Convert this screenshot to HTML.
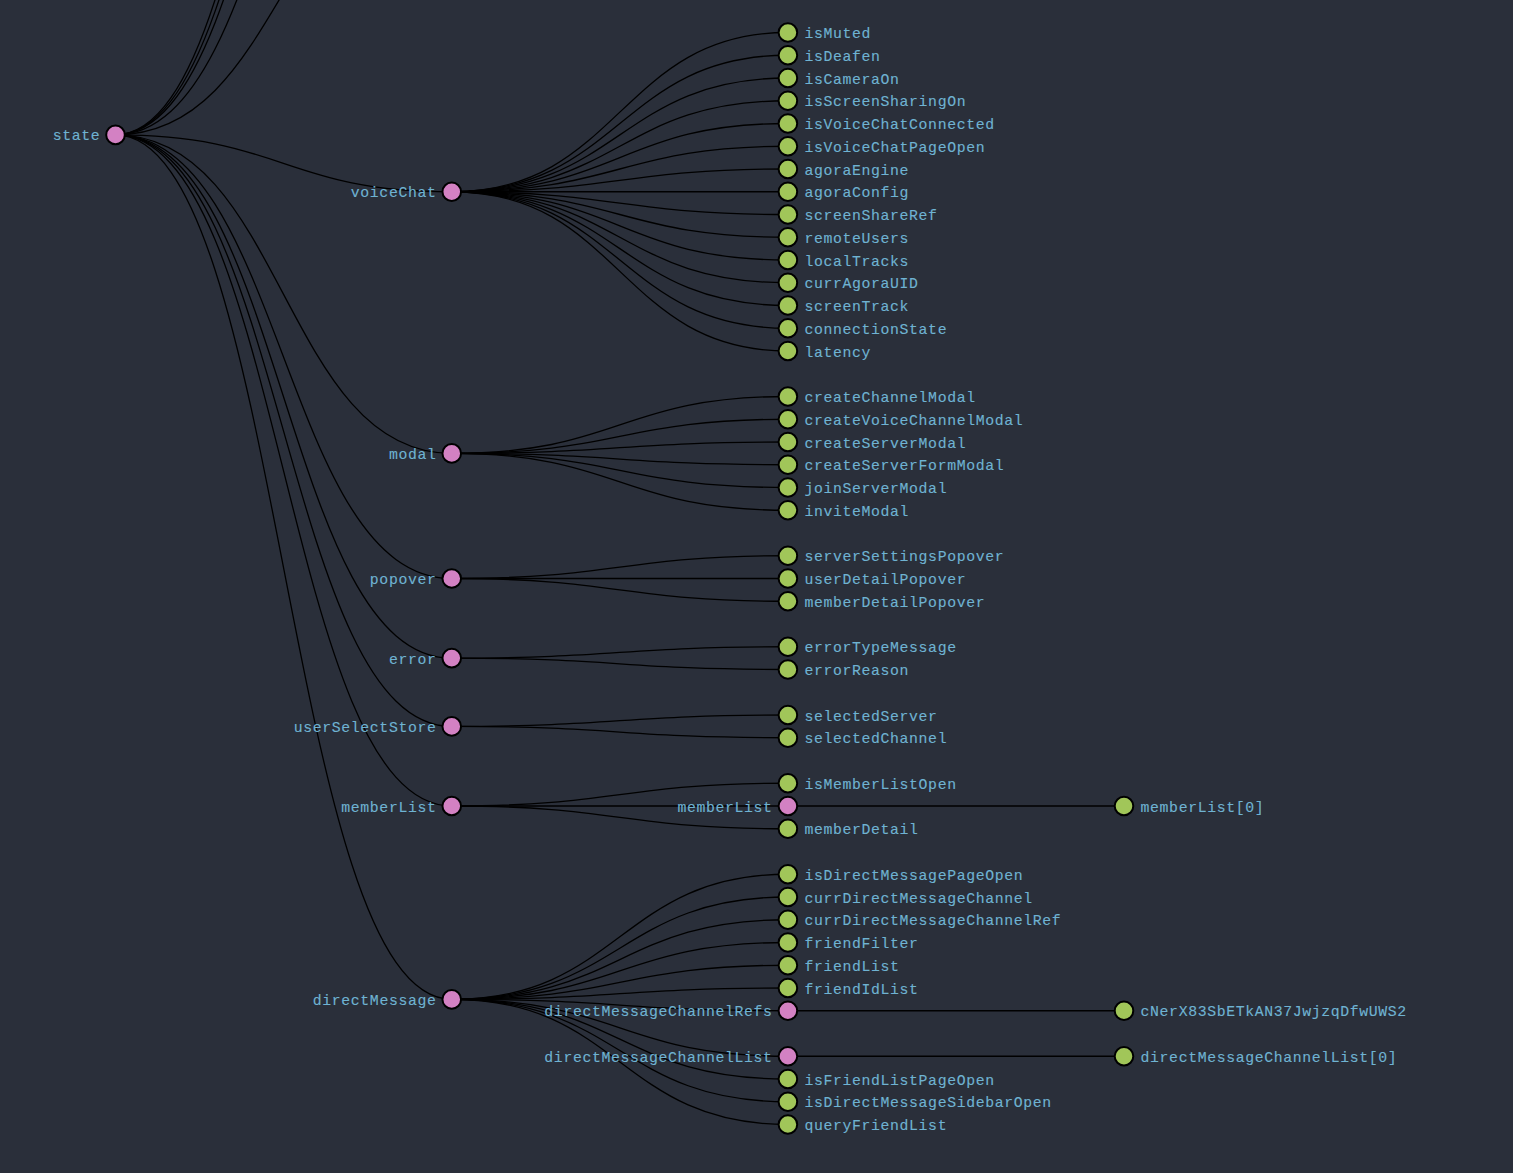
<!DOCTYPE html>
<html lang="en">
<head>
<meta charset="utf-8">
<title>Redux DevTools - Chart</title>
<style>
html,body{margin:0;padding:0;background:#2A2F3A;overflow:hidden;}
svg{display:block;}
path{fill:none;stroke:#000;stroke-width:1.3px;}
circle{stroke:#000;stroke-width:2.0px;}
circle.p{fill:#D381C3;}
circle.l{fill:#A1C659;}
text{font-family:"Liberation Mono", "DejaVu Sans Mono", monospace;font-size:14.8px;letter-spacing:0.63px;fill:#6FB3D2;stroke:#6FB3D2;stroke-width:0.12px;text-anchor:start;}
text.e{text-anchor:end;}
</style>
</head>
<body>
<svg width="1513" height="1173" viewBox="0 0 1513 1173">
<rect width="1513" height="1173" fill="#2A2F3A"/>
<g class="links">
<path d="M115.10,134.88C283.43,134.88 283.43,-729.62 451.75,-729.62"/>
<path d="M115.10,134.88C283.43,134.88 283.43,-655.69 451.75,-655.69"/>
<path d="M115.10,134.88C283.43,134.88 283.43,-582.89 451.75,-582.89"/>
<path d="M115.10,134.88C283.43,134.88 283.43,-414.54 451.75,-414.54"/>
<path d="M115.10,134.88C283.43,134.88 283.43,-149.50 451.75,-149.50"/>
<path d="M115.10,134.88C283.43,134.88 283.43,191.75 451.75,191.75"/>
<path d="M451.75,191.75C619.83,191.75 619.83,32.50 787.90,32.50"/>
<path d="M451.75,191.75C619.83,191.75 619.83,55.25 787.90,55.25"/>
<path d="M451.75,191.75C619.83,191.75 619.83,78.00 787.90,78.00"/>
<path d="M451.75,191.75C619.83,191.75 619.83,100.75 787.90,100.75"/>
<path d="M451.75,191.75C619.83,191.75 619.83,123.50 787.90,123.50"/>
<path d="M451.75,191.75C619.83,191.75 619.83,146.25 787.90,146.25"/>
<path d="M451.75,191.75C619.83,191.75 619.83,169.00 787.90,169.00"/>
<path d="M451.75,191.75C619.83,191.75 619.83,191.75 787.90,191.75"/>
<path d="M451.75,191.75C619.83,191.75 619.83,214.50 787.90,214.50"/>
<path d="M451.75,191.75C619.83,191.75 619.83,237.25 787.90,237.25"/>
<path d="M451.75,191.75C619.83,191.75 619.83,260.00 787.90,260.00"/>
<path d="M451.75,191.75C619.83,191.75 619.83,282.75 787.90,282.75"/>
<path d="M451.75,191.75C619.83,191.75 619.83,305.50 787.90,305.50"/>
<path d="M451.75,191.75C619.83,191.75 619.83,328.25 787.90,328.25"/>
<path d="M451.75,191.75C619.83,191.75 619.83,351.00 787.90,351.00"/>
<path d="M115.10,134.88C283.43,134.88 283.43,453.38 451.75,453.38"/>
<path d="M451.75,453.38C619.83,453.38 619.83,396.50 787.90,396.50"/>
<path d="M451.75,453.38C619.83,453.38 619.83,419.25 787.90,419.25"/>
<path d="M451.75,453.38C619.83,453.38 619.83,442.00 787.90,442.00"/>
<path d="M451.75,453.38C619.83,453.38 619.83,464.75 787.90,464.75"/>
<path d="M451.75,453.38C619.83,453.38 619.83,487.50 787.90,487.50"/>
<path d="M451.75,453.38C619.83,453.38 619.83,510.25 787.90,510.25"/>
<path d="M115.10,134.88C283.43,134.88 283.43,578.50 451.75,578.50"/>
<path d="M451.75,578.50C619.83,578.50 619.83,555.75 787.90,555.75"/>
<path d="M451.75,578.50C619.83,578.50 619.83,578.50 787.90,578.50"/>
<path d="M451.75,578.50C619.83,578.50 619.83,601.25 787.90,601.25"/>
<path d="M115.10,134.88C283.43,134.88 283.43,658.12 451.75,658.12"/>
<path d="M451.75,658.12C619.83,658.12 619.83,646.75 787.90,646.75"/>
<path d="M451.75,658.12C619.83,658.12 619.83,669.50 787.90,669.50"/>
<path d="M115.10,134.88C283.43,134.88 283.43,726.38 451.75,726.38"/>
<path d="M451.75,726.38C619.83,726.38 619.83,715.00 787.90,715.00"/>
<path d="M451.75,726.38C619.83,726.38 619.83,737.75 787.90,737.75"/>
<path d="M115.10,134.88C283.43,134.88 283.43,806.00 451.75,806.00"/>
<path d="M451.75,806.00C619.83,806.00 619.83,783.25 787.90,783.25"/>
<path d="M451.75,806.00C619.83,806.00 619.83,806.00 787.90,806.00"/>
<path d="M787.90,806.00C955.95,806.00 955.95,806.00 1124.00,806.00"/>
<path d="M451.75,806.00C619.83,806.00 619.83,828.75 787.90,828.75"/>
<path d="M115.10,134.88C283.43,134.88 283.43,999.38 451.75,999.38"/>
<path d="M451.75,999.38C619.83,999.38 619.83,874.25 787.90,874.25"/>
<path d="M451.75,999.38C619.83,999.38 619.83,897.00 787.90,897.00"/>
<path d="M451.75,999.38C619.83,999.38 619.83,919.75 787.90,919.75"/>
<path d="M451.75,999.38C619.83,999.38 619.83,942.50 787.90,942.50"/>
<path d="M451.75,999.38C619.83,999.38 619.83,965.25 787.90,965.25"/>
<path d="M451.75,999.38C619.83,999.38 619.83,988.00 787.90,988.00"/>
<path d="M451.75,999.38C619.83,999.38 619.83,1010.75 787.90,1010.75"/>
<path d="M787.90,1010.75C955.95,1010.75 955.95,1010.75 1124.00,1010.75"/>
<path d="M451.75,999.38C619.83,999.38 619.83,1056.25 787.90,1056.25"/>
<path d="M787.90,1056.25C955.95,1056.25 955.95,1056.25 1124.00,1056.25"/>
<path d="M451.75,999.38C619.83,999.38 619.83,1079.00 787.90,1079.00"/>
<path d="M451.75,999.38C619.83,999.38 619.83,1101.75 787.90,1101.75"/>
<path d="M451.75,999.38C619.83,999.38 619.83,1124.50 787.90,1124.50"/>
</g>
<g class="nodes">
<circle class="p" cx="115.50" cy="134.88" r="9.3"/><text class="e" x="100.20" y="140.47">state</text>
<circle class="p" cx="451.75" cy="191.75" r="9.3"/><text class="e" x="436.45" y="197.35">voiceChat</text>
<circle class="l" cx="787.90" cy="32.50" r="9.3"/><text x="804.50" y="38.10">isMuted</text>
<circle class="l" cx="787.90" cy="55.25" r="9.3"/><text x="804.50" y="60.85">isDeafen</text>
<circle class="l" cx="787.90" cy="78.00" r="9.3"/><text x="804.50" y="83.60">isCameraOn</text>
<circle class="l" cx="787.90" cy="100.75" r="9.3"/><text x="804.50" y="106.35">isScreenSharingOn</text>
<circle class="l" cx="787.90" cy="123.50" r="9.3"/><text x="804.50" y="129.10">isVoiceChatConnected</text>
<circle class="l" cx="787.90" cy="146.25" r="9.3"/><text x="804.50" y="151.85">isVoiceChatPageOpen</text>
<circle class="l" cx="787.90" cy="169.00" r="9.3"/><text x="804.50" y="174.60">agoraEngine</text>
<circle class="l" cx="787.90" cy="191.75" r="9.3"/><text x="804.50" y="197.35">agoraConfig</text>
<circle class="l" cx="787.90" cy="214.50" r="9.3"/><text x="804.50" y="220.10">screenShareRef</text>
<circle class="l" cx="787.90" cy="237.25" r="9.3"/><text x="804.50" y="242.85">remoteUsers</text>
<circle class="l" cx="787.90" cy="260.00" r="9.3"/><text x="804.50" y="265.60">localTracks</text>
<circle class="l" cx="787.90" cy="282.75" r="9.3"/><text x="804.50" y="288.35">currAgoraUID</text>
<circle class="l" cx="787.90" cy="305.50" r="9.3"/><text x="804.50" y="311.10">screenTrack</text>
<circle class="l" cx="787.90" cy="328.25" r="9.3"/><text x="804.50" y="333.85">connectionState</text>
<circle class="l" cx="787.90" cy="351.00" r="9.3"/><text x="804.50" y="356.60">latency</text>
<circle class="p" cx="451.75" cy="453.38" r="9.3"/><text class="e" x="436.45" y="458.98">modal</text>
<circle class="l" cx="787.90" cy="396.50" r="9.3"/><text x="804.50" y="402.10">createChannelModal</text>
<circle class="l" cx="787.90" cy="419.25" r="9.3"/><text x="804.50" y="424.85">createVoiceChannelModal</text>
<circle class="l" cx="787.90" cy="442.00" r="9.3"/><text x="804.50" y="447.60">createServerModal</text>
<circle class="l" cx="787.90" cy="464.75" r="9.3"/><text x="804.50" y="470.35">createServerFormModal</text>
<circle class="l" cx="787.90" cy="487.50" r="9.3"/><text x="804.50" y="493.10">joinServerModal</text>
<circle class="l" cx="787.90" cy="510.25" r="9.3"/><text x="804.50" y="515.85">inviteModal</text>
<circle class="p" cx="451.75" cy="578.50" r="9.3"/><text class="e" x="436.45" y="584.10">popover</text>
<circle class="l" cx="787.90" cy="555.75" r="9.3"/><text x="804.50" y="561.35">serverSettingsPopover</text>
<circle class="l" cx="787.90" cy="578.50" r="9.3"/><text x="804.50" y="584.10">userDetailPopover</text>
<circle class="l" cx="787.90" cy="601.25" r="9.3"/><text x="804.50" y="606.85">memberDetailPopover</text>
<circle class="p" cx="451.75" cy="658.12" r="9.3"/><text class="e" x="436.45" y="663.73">error</text>
<circle class="l" cx="787.90" cy="646.75" r="9.3"/><text x="804.50" y="652.35">errorTypeMessage</text>
<circle class="l" cx="787.90" cy="669.50" r="9.3"/><text x="804.50" y="675.10">errorReason</text>
<circle class="p" cx="451.75" cy="726.38" r="9.3"/><text class="e" x="436.45" y="731.98">userSelectStore</text>
<circle class="l" cx="787.90" cy="715.00" r="9.3"/><text x="804.50" y="720.60">selectedServer</text>
<circle class="l" cx="787.90" cy="737.75" r="9.3"/><text x="804.50" y="743.35">selectedChannel</text>
<circle class="p" cx="451.75" cy="806.00" r="9.3"/><text class="e" x="436.45" y="811.60">memberList</text>
<circle class="l" cx="787.90" cy="783.25" r="9.3"/><text x="804.50" y="788.85">isMemberListOpen</text>
<circle class="p" cx="787.90" cy="806.00" r="9.3"/><text class="e" x="772.60" y="811.60">memberList</text>
<circle class="l" cx="1124.00" cy="806.00" r="9.3"/><text x="1140.60" y="811.60">memberList[0]</text>
<circle class="l" cx="787.90" cy="828.75" r="9.3"/><text x="804.50" y="834.35">memberDetail</text>
<circle class="p" cx="451.75" cy="999.38" r="9.3"/><text class="e" x="436.45" y="1004.98">directMessage</text>
<circle class="l" cx="787.90" cy="874.25" r="9.3"/><text x="804.50" y="879.85">isDirectMessagePageOpen</text>
<circle class="l" cx="787.90" cy="897.00" r="9.3"/><text x="804.50" y="902.60">currDirectMessageChannel</text>
<circle class="l" cx="787.90" cy="919.75" r="9.3"/><text x="804.50" y="925.35">currDirectMessageChannelRef</text>
<circle class="l" cx="787.90" cy="942.50" r="9.3"/><text x="804.50" y="948.10">friendFilter</text>
<circle class="l" cx="787.90" cy="965.25" r="9.3"/><text x="804.50" y="970.85">friendList</text>
<circle class="l" cx="787.90" cy="988.00" r="9.3"/><text x="804.50" y="993.60">friendIdList</text>
<circle class="p" cx="787.90" cy="1010.75" r="9.3"/><text class="e" x="772.60" y="1016.35">directMessageChannelRefs</text>
<circle class="l" cx="1124.00" cy="1010.75" r="9.3"/><text x="1140.60" y="1016.35">cNerX83SbETkAN37JwjzqDfwUWS2</text>
<circle class="p" cx="787.90" cy="1056.25" r="9.3"/><text class="e" x="772.60" y="1061.85">directMessageChannelList</text>
<circle class="l" cx="1124.00" cy="1056.25" r="9.3"/><text x="1140.60" y="1061.85">directMessageChannelList[0]</text>
<circle class="l" cx="787.90" cy="1079.00" r="9.3"/><text x="804.50" y="1084.60">isFriendListPageOpen</text>
<circle class="l" cx="787.90" cy="1101.75" r="9.3"/><text x="804.50" y="1107.35">isDirectMessageSidebarOpen</text>
<circle class="l" cx="787.90" cy="1124.50" r="9.3"/><text x="804.50" y="1130.10">queryFriendList</text>
</g>
</svg>
</body>
</html>
